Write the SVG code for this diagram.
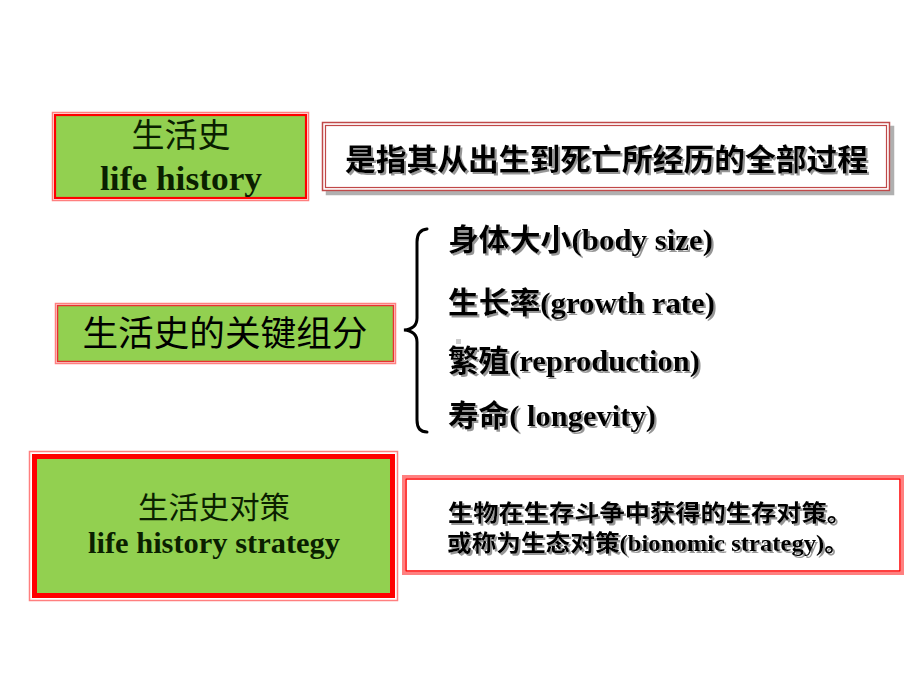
<svg xmlns="http://www.w3.org/2000/svg" width="920" height="690" viewBox="0 0 920 690">
<style>
.green{fill:#92d050}
.pink{fill:none;stroke:#ff7f7f}
.red{fill:none;stroke:#ff0000}
.t{font-family:"Liberation Serif","Noto Sans CJK SC",serif;}
.b{font-weight:bold}
.dk{fill:#0a1f00}
.blk{fill:#000}
.sh{filter:url(#shadow)}
</style>
<defs>
<filter id="shadow" x="-10%" y="-30%" width="120%" height="160%">
<feDropShadow dx="2" dy="2" stdDeviation="0.6" flood-color="#8a8a8a" flood-opacity="0.9"/>
</filter>
<filter id="boxsh" x="-5%" y="-10%" width="110%" height="125%">
<feDropShadow dx="4" dy="4" stdDeviation="0.5" flood-color="#b0b0b0" flood-opacity="1"/>
</filter>
</defs>
<rect width="920" height="690" fill="#fff"/>

<g id="node-life-history">
<rect x="52.5" y="112.5" width="256" height="88" class="pink" stroke-width="1.5"/>
<rect x="55" y="115" width="251" height="83" class="green" stroke="#ff0000" stroke-width="2.2"/>
<text x="181" y="147" text-anchor="middle" class="t dk" font-size="33">生活史</text>
<text x="181" y="190" text-anchor="middle" class="t b dk" font-size="34" textLength="162" lengthAdjust="spacingAndGlyphs">life history</text>
</g>

<g id="node-definition">
<rect x="322.5" y="122.5" width="567" height="68" fill="#fff" stroke="#c04848" stroke-width="1.5" filter="url(#boxsh)"/>
<rect x="325.5" y="125.5" width="561" height="62" fill="none" stroke="#c04848" stroke-width="1.2"/>
<text x="345" y="170" class="t b blk sh" font-size="30" textLength="523" lengthAdjust="spacingAndGlyphs">是指其从出生到死亡所经历的全部过程</text>
</g>

<g id="node-components">
<rect x="55.5" y="303.5" width="340" height="60" class="pink" stroke-width="1.5"/>
<rect x="57.5" y="305.5" width="336" height="56" class="green" stroke="#e83030" stroke-width="1.5"/>
<text x="225" y="346" text-anchor="middle" class="t blk" font-size="35" textLength="285" lengthAdjust="spacingAndGlyphs">生活史的关键组分</text>
</g>

<g id="connectors">
<path d="M427,229 Q417,230 417,242 L417,318 Q417,329 404,330 Q417,331 417,342 L417,420 Q417,432 427,432" fill="none" stroke="#000" stroke-width="3" stroke-linecap="round"/>
</g>

<g id="node-items">
<text x="448" y="250" class="t b blk sh" font-size="30" textLength="265" lengthAdjust="spacingAndGlyphs">身体大小(body size)</text>
<text x="448" y="313" class="t b blk sh" font-size="30" textLength="267" lengthAdjust="spacingAndGlyphs">生长率(growth rate)</text>
<rect x="456" y="339" width="5" height="5" fill="#cccccc"/>
<text x="448" y="371" class="t b blk sh" font-size="30" textLength="252" lengthAdjust="spacingAndGlyphs">繁殖(reproduction)</text>
<text x="448" y="426" class="t b blk sh" font-size="30" textLength="208" lengthAdjust="spacingAndGlyphs">寿命( longevity)</text>
</g>

<g id="node-strategy">
<rect x="29.5" y="451.5" width="368" height="149" class="pink" stroke-width="1.5"/>
<rect x="34.5" y="456.5" width="358" height="139" class="green" stroke="#ff0000" stroke-width="5"/>
<text x="214" y="518" text-anchor="middle" class="t dk" font-size="30" textLength="152" lengthAdjust="spacingAndGlyphs">生活史对策</text>
<text x="214" y="553" text-anchor="middle" class="t b dk" font-size="30" textLength="252" lengthAdjust="spacingAndGlyphs">life history strategy</text>
</g>

<g id="node-strategy-def">
<rect x="403.5" y="476.5" width="499" height="97" fill="#fff" stroke="#ff8080" stroke-width="3"/>
<rect x="406" y="479" width="494" height="92" fill="none" stroke="#ff0000" stroke-width="1.5"/>
<text x="448" y="521" class="t b blk sh" font-size="23" textLength="404" lengthAdjust="spacingAndGlyphs">生物在生存斗争中获得的生存对策。</text>
<text x="447" y="551" class="t b blk sh" font-size="23" textLength="402" lengthAdjust="spacingAndGlyphs">或称为生态对策(bionomic strategy)。</text>
</g>
</svg>
